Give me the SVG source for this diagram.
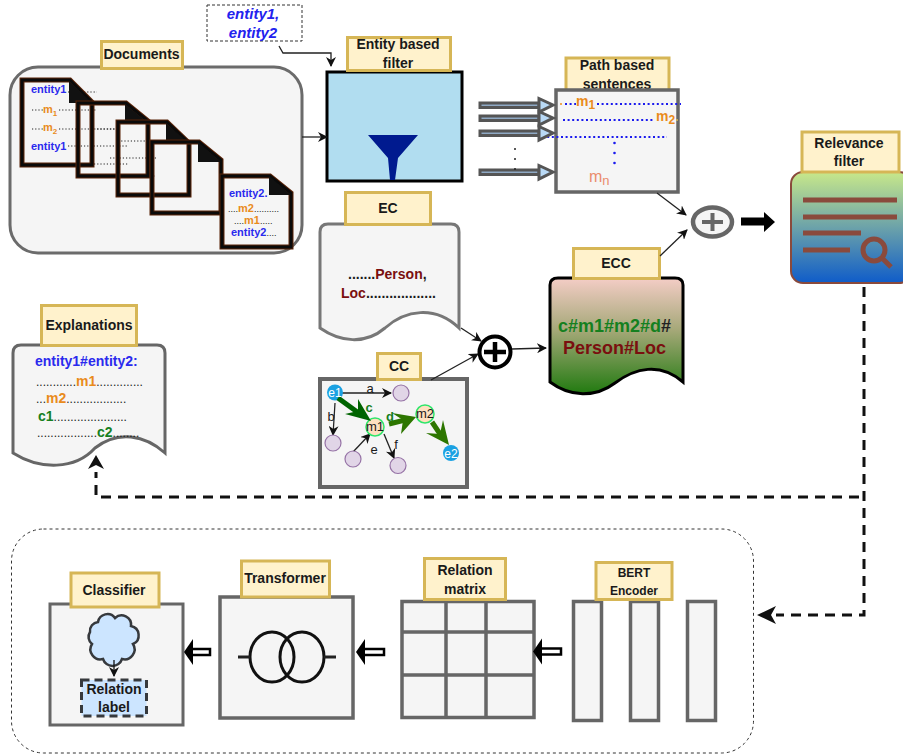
<svg xmlns="http://www.w3.org/2000/svg" width="903" height="756" viewBox="0 0 903 756">
<style>
text{font-family:"Liberation Sans",Arial,sans-serif;fill:#1a1a1a}
.lb{fill:#fff2cc;stroke:#d6b656;stroke-width:3}
.lt{font-size:14px;font-weight:bold;text-anchor:middle}
.box{fill:#f5f5f5;stroke:#666;stroke-width:4}
.pg{fill:none;stroke:#5a2408;stroke-width:5}
.pgi{fill:none;stroke:#0a0a0a;stroke-width:3}
.fold{fill:#111;stroke:none}
.blue{fill:#2a2aee;font-weight:bold}
.or{fill:#e98b1c;font-weight:bold}
.gr{fill:#15801f;font-weight:bold}
.dk{fill:#7a0f0f;font-weight:bold}
.dt{font-size:9px;fill:#222}
.thin{fill:none;stroke:#111;stroke-width:1.3}
.th{fill:none;stroke:#222;stroke-width:1.3;marker-end:url(#ah)}
.dash{fill:none;stroke:#111;stroke-width:3;stroke-dasharray:10 7}
.blk{fill:#8fa9c4;stroke:#555;stroke-width:3}
.blh{fill:#b9d9f5;stroke:#555;stroke-width:3}
.dots{fill:none;stroke:#1a1aee;stroke-width:2;stroke-dasharray:2 2.6}
.ddots{fill:none;stroke:#222;stroke-width:1;stroke-dasharray:1.2 2}
.pn{fill:#e1d5e7;stroke:#9673a6;stroke-width:1.2}
.mn{fill:#ffe0c0;stroke:#2ee66b;stroke-width:1.5}
.en{fill:#1ba1e2}
.gl{font-size:13px}
.hollow{fill:#fff;stroke:#000;stroke-width:2.5}
.hhead{fill:#000}
.bar{fill:#f5f5f5;stroke:#666;stroke-width:3.5}
</style>
<defs>
<marker id="ah" markerWidth="12" markerHeight="10" refX="9" refY="5" orient="auto" markerUnits="userSpaceOnUse"><path d="M0,0 L10,5 L0,10 L3,5 Z" fill="#111"/></marker>
<linearGradient id="gRel" x1="0" y1="0" x2="0" y2="1"><stop offset="0" stop-color="#c8e88a"/><stop offset="1" stop-color="#0f5cc9"/></linearGradient>
<linearGradient id="gEcc" x1="0" y1="0" x2="0" y2="1"><stop offset="0" stop-color="#f4cdc6"/><stop offset="0.45" stop-color="#a5a878"/><stop offset="1" stop-color="#217a10"/></linearGradient>
</defs>

<g id="container"><rect x="11.5" y="529" width="742" height="224" rx="32" fill="none" stroke="#333" stroke-width="1" stroke-dasharray="3 3"/></g>

<g id="documents">
<rect x="10" y="67" width="292" height="186" rx="28" fill="#f5f5f5" stroke="#6b6b6b" stroke-width="3"/>
<rect class="lb" x="101.500" y="41.500" width="81" height="27"/>
<text class="lt" x="141.500" y="59">Documents</text>
<path class="ddots" d="M68,92 H97 M32,110 H43 M59,110 H97 M32,129 H43 M59,129 H118 M68,146 H128 M97,129 H118 M118,141 H145 M110,158 H156 M94,164 H128 M150,176 H156"/>
<g id="page1"><path class="pg" d="M22,80 H70 L92,102 V165 H22 Z"/><path class="pgi" d="M22,80 H70 L92,102 V165 H22 Z"/><path class="fold" d="M69,81 L92,103 H69 Z"/>
<text class="blue" x="31" y="93" font-size="11">entity1</text>
<text class="or" x="43" y="113" font-size="11">m<tspan font-size="8" dy="3" class="or">1</tspan></text>
<text class="or" x="43" y="131" font-size="11">m<tspan font-size="8" dy="3" class="or">2</tspan></text>
<text class="blue" x="31" y="150" font-size="11">entity1</text></g>
<g id="page2"><path class="pg" d="M78,103 H126 L148,121 V176 H78 Z"/><path class="pgi" d="M78,103 H126 L148,121 V176 H78 Z"/><path class="fold" d="M125,104 L148,123 H125 Z"/></g>
<g id="page3"><path class="pg" d="M118,122 H167 L189,143 V195 H118 Z"/><path class="pgi" d="M118,122 H167 L189,143 V195 H118 Z"/><path class="fold" d="M166,123 L189,144 H166 Z"/></g>
<g id="page4"><path class="pg" d="M152,142 H199 L221,160 V213 H152 Z"/><path class="pgi" d="M152,142 H199 L221,160 V213 H152 Z"/><path class="fold" d="M198,142 L221,162 H198 Z"/></g>
<g id="page5"><path class="pg" d="M222,176 H270 L291,193 V247 H222 Z" style="fill:#f5f5f5"/><path class="pgi" d="M222,176 H270 L291,193 V247 H222 Z"/><path class="fold" d="M269,176 L291,195 H269 Z"/>
<text class="blue" x="229" y="197" font-size="11">entity2.</text>
<text x="228" y="212" font-size="11"><tspan class="dt">....</tspan><tspan class="or">m2</tspan><tspan class="dt">..........</tspan></text>
<text x="234" y="224" font-size="11"><tspan class="dt">....</tspan><tspan class="or">m1</tspan><tspan class="dt">.....</tspan></text>
<text x="231" y="236" font-size="11"><tspan class="blue">entity2</tspan><tspan class="dt">....</tspan></text></g>
</g>

<g id="entities">
<rect x="207" y="5" width="95" height="36" fill="#fff" stroke="#333" stroke-width="1" stroke-dasharray="3 2"/>
<text x="253" y="19" text-anchor="middle" font-size="15" font-weight="bold" font-style="italic" style="fill:#2222ee">entity1,</text>
<text x="253" y="38" text-anchor="middle" font-size="15" font-weight="bold" font-style="italic" style="fill:#2222ee">entity2</text>
</g>

<g id="entity-filter">
<rect x="327" y="72" width="135" height="109" fill="#b1ddf0" stroke="#000" stroke-width="3"/>
<path d="M368,135 H418 L398,158 L395,180 H390 L388,158 Z" fill="#001a8f"/>
<rect class="lb" x="347.500" y="37.500" width="103" height="33"/>
<text class="lt" x="398" y="49">Entity based</text>
<text class="lt" x="398" y="68">filter</text>
</g>

<g id="path-sentences">
<rect class="lb" x="566" y="58" width="103" height="34"/>
<text class="lt" x="617" y="70">Path based</text>
<text class="lt" x="617" y="89">sentences</text>
<rect class="box" x="556" y="90" width="122" height="102" style="stroke-width:3.500"/>
<circle cx="561" cy="104" r="1" fill="#e98b1c"/><circle cx="677" cy="120" r="1" fill="#d6b656"/>
<path class="dots" d="M565,104 H576 M597,104 H681 M563,120 H655 M538,137 H667"/>
<text class="or" x="576" y="106" font-size="14">m<tspan dy="3" font-size="12" class="or">1</tspan></text>
<text class="or" x="656" y="121" font-size="14">m<tspan dy="3" font-size="12" class="or">2</tspan></text>
<circle cx="614.500" cy="143" r="1.300" fill="#1a1aee"/><circle cx="614.500" cy="153" r="1.300" fill="#1a1aee"/><circle cx="614.500" cy="163" r="1.300" fill="#1a1aee"/>
<text x="589" y="182" font-size="16" style="fill:#ea8c6c">m<tspan dy="3" font-size="13" style="fill:#ea8c6c">n</tspan></text>
</g>

<g id="relevance-filter">
<rect x="791" y="172" width="120" height="111" rx="12" fill="url(#gRel)" stroke="#8a4a3c" stroke-width="2"/>
<rect class="lb" x="802" y="132" width="97" height="40"/>
<text class="lt" x="849" y="148">Relevance</text>
<text class="lt" x="849" y="166">filter</text>
<path d="M803,200 H897 M803,217 H897 M803,233 H861 M803,250 H850" stroke="#8a4a3c" stroke-width="5" fill="none"/>
<circle cx="874" cy="250" r="11" fill="none" stroke="#8a4a3c" stroke-width="5"/>
<path d="M882,258 L891,267" stroke="#8a4a3c" stroke-width="5"/>
</g>

<g id="sum-top">
<ellipse cx="712.500" cy="222" rx="19.500" ry="14.500" fill="#f5f5f5" stroke="#666" stroke-width="4.500"/>
<path d="M702,222 H723 M712.500,213 V231" stroke="#666" stroke-width="4"/>
</g>

<g id="ec">
<path class="box" style="stroke:#777;stroke-width:3" d="M320,232 Q320,224 328,224 H451 Q459,224 459,232 V328 C435,305 405,310 385,328 C365,345 340,342 320,328 Z"/>
<rect class="lb" x="345.500" y="192.500" width="85" height="32"/>
<text class="lt" x="388" y="213">EC</text>
<text x="348" y="279" font-size="14" font-weight="bold">.......<tspan class="dk">Person</tspan>,</text>
<text x="341" y="298" font-size="14" font-weight="bold"><tspan class="dk">Loc</tspan>..................</text>
</g>

<g id="ecc">
<path d="M550,285 Q550,278 558,278 H675 Q683,278 683,285 V382 C660,362 635,368 615,383 C595,398 570,397 550,382 Z" fill="url(#gEcc)" stroke="#000" stroke-width="3"/>
<rect class="lb" x="573.500" y="248.500" width="86" height="30"/>
<text class="lt" x="616" y="268">ECC</text>
<text x="558" y="332" font-size="18" class="gr" font-weight="bold">c#m1#m2#d<tspan style="fill:#222">#</tspan></text>
<text x="563" y="354" font-size="18" class="dk">Person#Loc</text>
</g>

<g id="sum-mid">
<circle cx="495" cy="352" r="15.500" fill="#fff" stroke="#000" stroke-width="4"/>
<path d="M484,352 H506 M495,342 V362" stroke="#000" stroke-width="4.500"/>
</g>

<g id="cc">
<rect class="box" x="320" y="379" width="147" height="108" style="stroke-width:4"/>
<rect class="lb" x="377.500" y="353.500" width="43" height="26"/>
<text class="lt" x="399" y="371">CC</text>
<path class="th" d="M338,393 H391"/>
<path class="th" d="M335,403 L333,435"/>
<path class="th" d="M353,452 L370,434"/>
<path class="th" d="M384,434 L394,458"/>
<circle class="pn" cx="401" cy="393" r="8"/>
<circle class="pn" cx="333" cy="443" r="8"/>
<circle class="pn" cx="353" cy="459" r="8"/>
<circle class="pn" cx="398" cy="465.500" r="8"/>
<circle class="en" cx="335" cy="392.500" r="8"/>
<circle class="en" cx="451" cy="453" r="8"/>
<circle class="mn" cx="375" cy="427" r="9"/>
<circle class="mn" cx="425" cy="414" r="9"/>
<path d="M338,398 L360,414" stroke="#006400" stroke-width="5"/>
<path d="M371,421 L345,414 L358,411 L358,399 Z" fill="#006400"/>
<path d="M389,424 L405,420" stroke="#2d7600" stroke-width="5"/>
<path d="M416,417 L392,413 L403,420 L401,434 Z" fill="#2d7600"/>
<path d="M432,422 L442,437" stroke="#2d7600" stroke-width="5"/>
<path d="M449,445 L426,433 L440,434 L443,420 Z" fill="#2d7600"/>
<text x="335" y="397" text-anchor="middle" font-size="12" style="fill:#fff">e1</text>
<text x="451" y="458" text-anchor="middle" font-size="12" style="fill:#fff">e2</text>
<text x="375" y="431" text-anchor="middle" font-size="13">m1</text>
<text x="425" y="418" text-anchor="middle" font-size="13">m2</text>
<text class="gl" x="370" y="393" text-anchor="middle">a</text>
<text class="gl" x="331" y="421" text-anchor="middle">b</text>
<text class="gr gl" x="369" y="412" text-anchor="middle">c</text>
<text class="gr gl" x="390" y="421" text-anchor="middle">d</text>
<text class="gl" x="374" y="454" text-anchor="middle">e</text>
<text class="gl" x="396" y="449" text-anchor="middle">f</text>
</g>

<g id="explanations">
<path class="box" style="stroke:#666;stroke-width:3" d="M13,353 Q13,345 21,345 H157 Q165,345 165,353 V453 C145,435 118,430 95,448 C75,470 40,470 13,453 Z"/>
<rect class="lb" x="41.500" y="305.500" width="95" height="40"/>
<text class="lt" x="89" y="330">Explanations</text>
<text x="35" y="366" font-size="14" class="blue">entity1#entity2:</text>
<text x="36" y="386" font-size="12">............<tspan font-size="14" class="or">m1</tspan>..............</text>
<text x="36" y="403" font-size="12">...<tspan font-size="14" class="or">m2</tspan>..................</text>
<text x="38" y="421" font-size="12"><tspan font-size="14" class="gr">c1</tspan>......................</text>
<text x="37" y="437" font-size="12">..................<tspan font-size="14" class="gr">c2</tspan>........</text>
</g>

<g id="classifier">
<rect class="bar" x="50" y="604" width="133" height="121" style="stroke-width:3"/>
<rect class="lb" x="71" y="573" width="88" height="34"/>
<text class="lt" x="114" y="595">Classifier</text>
<path d="M98,622 A9.500,9.500 0 0 1 115,618 A9.500,9.500 0 0 1 131,626 A9.500,9.500 0 0 1 133,644 A10,10 0 0 1 122,659 A10,10 0 0 1 103,659 A10,10 0 0 1 92,644 A9,9 0 0 1 90,632 A9,9 0 0 1 98,622 Z" fill="#cce5ff" stroke="#36393d" stroke-width="2.500"/>
<path d="M114,660 V676" class="thin" marker-end="url(#ah)"/>
<rect x="81.500" y="680" width="65" height="36" fill="#cce5ff" stroke="#36393d" stroke-width="3" stroke-dasharray="8 5"/>
<text class="lt" x="114" y="694">Relation</text>
<text class="lt" x="114" y="712">label</text>
</g>

<g id="transformer">
<rect class="bar" x="220" y="597" width="133" height="121"/>
<rect class="lb" x="241.500" y="561" width="88" height="36"/>
<text class="lt" x="285" y="583">Transformer</text>
<ellipse cx="272" cy="657" rx="22" ry="25" fill="none" stroke="#111" stroke-width="3"/>
<ellipse cx="302" cy="657" rx="22" ry="25" fill="none" stroke="#111" stroke-width="3"/>
<path d="M238,657 H250 M324,657 H336" stroke="#222" stroke-width="3"/>
</g>

<g id="relation-matrix">
<rect class="bar" x="402" y="601.500" width="132" height="116"/>
<path d="M446,601 V718 M486,601 V718 M402,632 H534 M402,675 H534" stroke="#666" stroke-width="3.500" fill="none"/>
<rect class="lb" x="424.500" y="558.500" width="81" height="41"/>
<text class="lt" x="465" y="575">Relation</text>
<text class="lt" x="465" y="594">matrix</text>
</g>

<g id="bert-encoder">
<rect class="bar" x="573.500" y="601.500" width="28" height="119"/>
<rect class="bar" x="630.500" y="601.500" width="28" height="119"/>
<rect class="bar" x="687.500" y="601.500" width="28" height="119"/>
<rect class="lb" x="596" y="562.500" width="76" height="37"/>
<text x="634" y="577" text-anchor="middle" font-size="12" font-weight="bold">BERT</text>
<text x="634" y="595" text-anchor="middle" font-size="12" font-weight="bold">Encoder</text>
</g>

<g id="connectors">
<path class="th" d="M302,137 H327"/>
<path class="th" d="M279,46 L283,53 H331 V66"/>
<g id="blocks">
<rect class="blk" x="480" y="103" width="59" height="4.500"/><path class="blh" d="M539,98.500 L553,105 L539,112 Z"/>
<rect class="blk" x="480" y="116" width="59" height="4.500"/><path class="blh" d="M539,111.500 L553,118 L539,125 Z"/>
<rect class="blk" x="480" y="131" width="59" height="4.500"/><path class="blh" d="M539,126.500 L553,133 L539,140 Z"/>
<rect class="blk" x="480" y="170" width="59" height="4.500"/><path class="blh" d="M539,165.500 L553,172 L539,179 Z"/>
</g>
<circle cx="515" cy="149" r="1" fill="#222"/><circle cx="515" cy="159" r="1" fill="#222"/><circle cx="515" cy="169" r="1" fill="#222"/>
<path class="th" d="M657,193 L686,215"/>
<path class="th" d="M660,256 L687,230"/>
<path d="M741,217.500 H764 V212 L775,222 L764,232 V225.500 H741 Z" fill="#000"/>
<path class="th" d="M461,328 L481,341"/>
<path class="th" d="M431,380 L478,354"/>
<path class="th" d="M512,349 L546,348"/>
<path class="dash" d="M864,287 V615 H776"/>
<path d="M757,615 L776,606 L771,615 L776,624 Z" fill="#111"/>
<path class="dash" d="M859,497 H96 V472"/>
<path d="M96,455 L104,469 L96,465 L88,469 Z" fill="#111"/>
<rect class="hollow" x="190" y="649" width="20" height="6"/><path class="hhead" d="M184,652 L193,639 V665 Z"/>
<rect class="hollow" x="362" y="649" width="22" height="6"/><path class="hhead" d="M356,652 L365,639 V665 Z"/>
<rect class="hollow" x="539" y="648.500" width="22" height="6"/><path class="hhead" d="M533,651.500 L542,638.500 V664.500 Z"/>
</g>
</svg>
